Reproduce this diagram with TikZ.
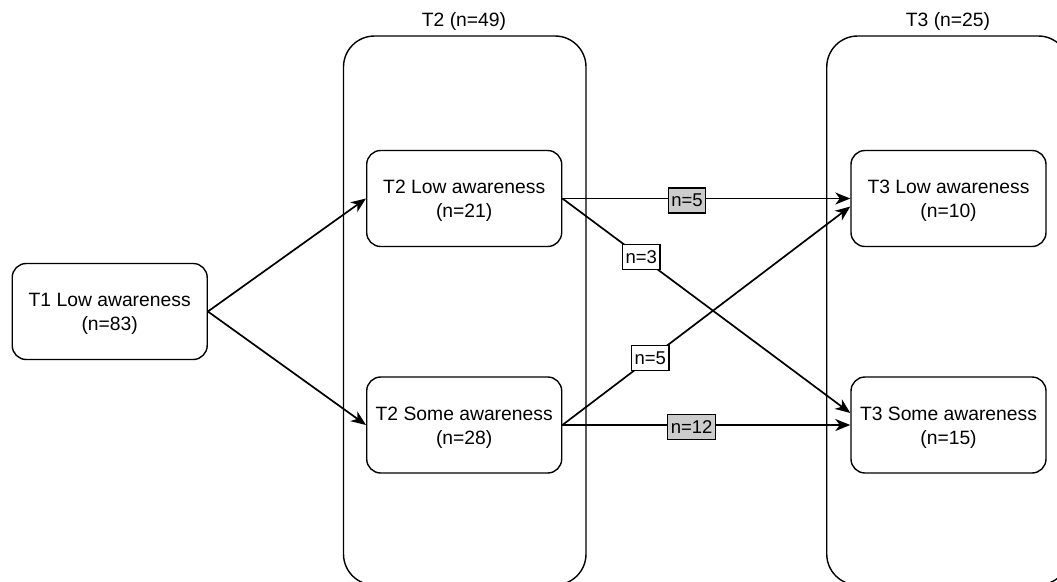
\documentclass[tikz,border=0pt]{standalone}
\usepackage{fontspec}
\setmainfont{Liberation Sans}
\usetikzlibrary{arrows.meta}
\begin{document}
\begin{tikzpicture}[x=1pt,y=-1pt,
  box/.style={draw,line width=1.4pt,rounded corners=14pt,minimum width=195pt,minimum height=96pt,inner sep=0pt},
  boxtext/.style={align=center,font=\fontsize{19.3}{24}\selectfont,inner sep=0pt},
  group/.style={draw,line width=1.4pt,rounded corners=31pt,minimum width=242.5pt,minimum height=549pt,inner sep=0pt},
  grouptitle/.style={font=\fontsize{19.3}{24}\selectfont,inner sep=0pt},
  flow/.style={line width=1.7pt,-{Stealth[length=15pt,width=12pt,inset=4.5pt]}},
  count/.style={draw,line width=1.2pt,fill=white,font=\fontsize{18.5}{20}\selectfont,
    inner xsep=3pt,inner ysep=0pt,minimum height=25pt},
  countgray/.style={count,fill=black!20}]
\useasboundingbox (0,0) rectangle (1057,581);
\clip (0,0) rectangle (1057,581);

% time-point containers
\node[group] (g2) at (464.75,310.5) {};
\node[group] (g3) at (948,310.5) {};
\node[grouptitle] (g2t) at (464,22) {T2 (n=49)};
\node[grouptitle] (g3t) at (948,22) {T3 (n=25)};

% awareness states: frame first, then its two-line text set slightly low
\node[box] (t1) at (109.7,311.5) {};
\node[box] (t2low) at (464.2,198.5) {};
\node[box] (t2some) at (464.2,425) {};
\node[box] (t3low) at (948.5,198.5) {};
\node[box] (t3some) at (948.5,425) {};
\node[boxtext] (t1txt) at ([yshift=-2.5pt]t1.center) {T1 Low awareness\\(n=83)};
\node[boxtext] (t2lowtxt) at ([yshift=-2.5pt]t2low.center) {T2 Low awareness\\(n=21)};
\node[boxtext] (t2sometxt) at ([yshift=-2.5pt]t2some.center) {T2 Some awareness\\(n=28)};
\node[boxtext] (t3lowtxt) at ([yshift=-2.5pt]t3low.center) {T3 Low awareness\\(n=10)};
\node[boxtext] (t3sometxt) at ([yshift=-2.5pt]t3some.center) {T3 Some awareness\\(n=15)};

% transitions T1 -> T2
\draw[flow] (t1.east) -- (t2low.west);
\draw[flow] (t1.east) -- (t2some.west);

% transitions T2 -> T3
\draw[flow] (t2low.east) -- (t3low.west)
  node[countgray,pos=0.433,yshift=-2pt] (c1) {n=5};
\draw[flow] (t2low.east) -- ([yshift=12pt]t3some.west)
  node[count,pos=0.274] (c2) {n=3};
\draw[flow] (t2some.east) -- ([yshift=-8pt]t3low.west)
  node[count,pos=0.305] (c3) {n=5};
\draw[flow] (t2some.east) -- (t3some.west)
  node[countgray,pos=0.449,yshift=-2pt] (c4) {n=12};
\end{tikzpicture}
\end{document}
